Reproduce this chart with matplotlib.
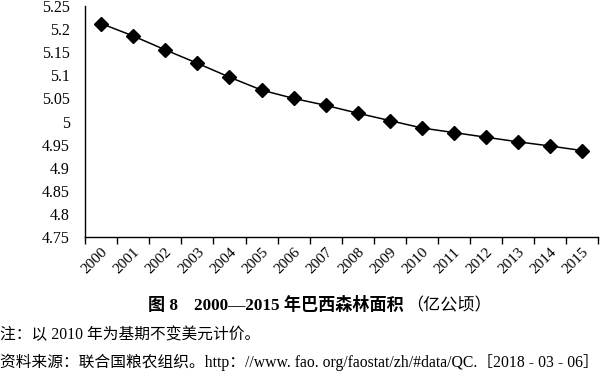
import matplotlib
matplotlib.use("Agg")
import matplotlib.pyplot as plt
import numpy as np

years = ["2000", "2001", "2002", "2003", "2004", "2005", "2006", "2007",
         "2008", "2009", "2010", "2011", "2012", "2013", "2014", "2015"]
forest_area = [5.212, 5.185, 5.155, 5.126, 5.096, 5.068, 5.050, 5.035,
               5.018, 5.002, 4.986, 4.976, 4.966, 4.956, 4.947, 4.937]
y_ticks = [4.75, 4.8, 4.85, 4.9, 4.95, 5, 5.05, 5.1, 5.15, 5.2, 5.25]
y_tick_labels = ["4.75", "4.8", "4.85", "4.9", "4.95", "5", "5.05", "5.1", "5.15", "5.2", "5.25"]

title_fig = "图 8"
title_main = "2000—2015 年巴西森林面积"
title_unit = "（亿公顷）"
note = "注：以 2010 年为基期不变美元计价。"
source = "资料来源：联合国粮农组织。http：//www. fao. org/faostat/zh/#data/QC.［2018 - 03 - 06］"

plt.rcParams['font.family'] = ['Liberation Serif', 'Noto Sans CJK SC']

fig = plt.figure(figsize=(6, 3.75), dpi=100)
ax = fig.add_axes([0.142, 0.368, 0.855, 0.616])

x = np.arange(len(years))
ax.plot(x, forest_area, color="black", linewidth=1.1, marker="D",
        markersize=7.5, markerfacecolor="black", markeredgecolor="black")

ax.set_xlim(-0.5, len(years) - 0.5)
ax.set_ylim(4.75, 5.25)
ax.set_yticks(y_ticks)
ax.set_yticklabels(y_tick_labels, fontsize=11.5)
ax.tick_params(axis="y", length=0, pad=11)

# ticks between categories, labels at category centres
ax.set_xticks(np.arange(-0.5, len(years), 1.0))
ax.set_xticklabels([])
ax.set_xticks(x, minor=True)
ax.set_xticklabels(years, minor=True, rotation=45, fontsize=11,
                   ha="right", va="top", rotation_mode="anchor")
ax.tick_params(axis="x", which="major", direction="out", length=5, width=1)
ax.tick_params(axis="x", which="minor", length=0, pad=6)

for side in ["top", "right"]:
    ax.spines[side].set_visible(False)
for side in ["left", "bottom"]:
    ax.spines[side].set_linewidth(1.0)

fig.text(148 / 600, 1 - 306 / 375, title_fig, fontsize=12.3, fontweight="bold",
         ha="left", va="center")
fig.text(194 / 600, 1 - 306 / 375, title_main, fontsize=12.3, fontweight="bold",
         ha="left", va="center")
fig.text(492 / 600, 1 - 306 / 375, title_unit, fontsize=12.3,
         ha="right", va="center")
fig.text(0.0, 1 - 335 / 375, note, fontsize=11.3, ha="left", va="center")
fig.text(0.0, 1 - 362 / 375, source, fontsize=11.3, ha="left", va="center")

fig.savefig("out.png", dpi=100)
